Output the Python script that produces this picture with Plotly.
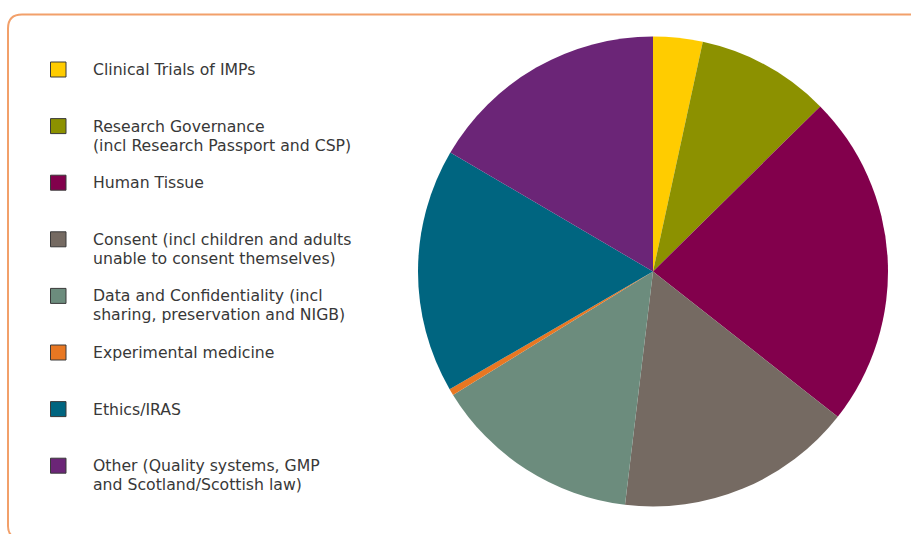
import plotly.graph_objects as go

labels = [
    "Clinical Trials of IMPs",
    "Research Governance<br>(incl Research Passport and CSP)",
    "Human Tissue",
    "Consent (incl children and adults<br>unable to consent themselves)",
    "Data and Confidentiality (incl<br>sharing, preservation and NIGB)",
    "Experimental medicine",
    "Ethics/IRAS",
    "Other (Quality systems, GMP<br>and Scotland/Scottish law)",
]
values = [3.4, 9.2, 23.0, 16.3, 14.3, 0.45, 16.8, 16.55]
colors = ["#FFCC00", "#8C9100", "#82004C", "#756A62", "#6C8C7D",
          "#E87722", "#006580", "#6B2577"]

W, H = 911, 534
cx, cy, r = 653, 271.5, 235

fig = go.Figure()
fig.add_trace(go.Pie(
    labels=[l.replace("<br>", " ") for l in labels],
    values=values,
    marker=dict(colors=colors, line=dict(width=0)),
    sort=False, direction="clockwise", rotation=0,
    textinfo="none", hoverinfo="label+percent",
    showlegend=False,
    domain=dict(x=[(cx - r) / W, (cx + r) / W],
                y=[(H - cy - r) / H, (H - cy + r) / H]),
))

# manual legend (pixel coordinates via hidden axes)
leg_y0, leg_dy, line_dy = 69.5, 56.6, 19
shapes = []
annotations = []
for i, (lab, col) in enumerate(zip(labels, colors)):
    y = leg_y0 + i * leg_dy
    shapes.append(dict(type="rect", xref="x", yref="y",
                       x0=50.5, x1=66, y0=y - 7.5, y1=y + 7.5,
                       fillcolor=col, line=dict(color="#3a3a3a", width=1)))
    for j, part in enumerate(lab.split("<br>")):
        annotations.append(dict(xref="x", yref="y", x=91, y=y + j * line_dy,
                                text=part, showarrow=False, xanchor="left",
                                yanchor="middle",
                                font=dict(family="DejaVu Sans", size=15.7,
                                          color="#383838")))

# rounded orange frame
shapes.append(dict(type="path", xref="x", yref="y",
                   path="M 20,538 Q 8,538 8,526 L 8,28.5 Q 8,14.5 22,14.5 L 950,14.5 L 950,538 Z",
                   line=dict(color="#F2A06A", width=2), fillcolor="rgba(0,0,0,0)",
                   layer="below"))

fig.update_layout(
    width=W, height=H,
    margin=dict(l=0, r=0, t=0, b=0),
    paper_bgcolor="white", plot_bgcolor="rgba(0,0,0,0)",
    xaxis=dict(range=[0, W], visible=False, fixedrange=True, domain=[0, 1]),
    yaxis=dict(range=[H, 0], visible=False, fixedrange=True, domain=[0, 1]),
    shapes=shapes, annotations=annotations,
    showlegend=False,
)
fig.write_html("out.html")
